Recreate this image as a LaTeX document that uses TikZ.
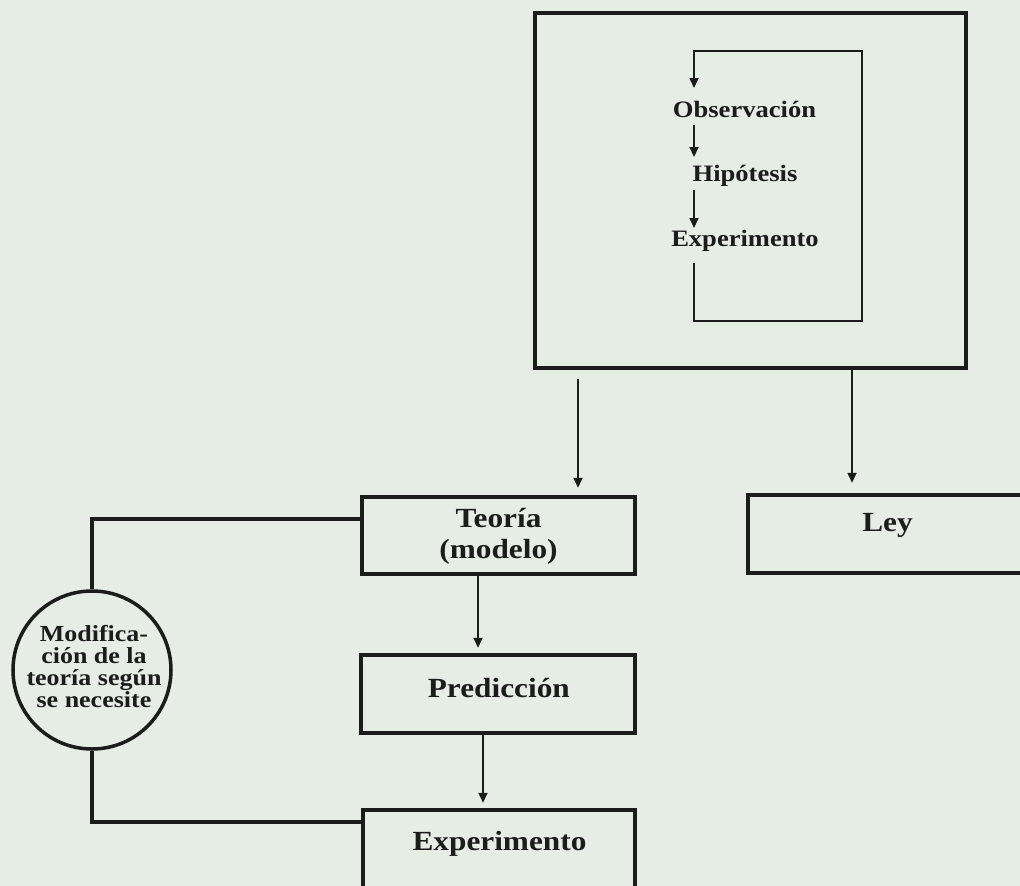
\documentclass[tikz,border=0pt]{standalone}
\usepackage{fontspec}
\setmainfont{Liberation Serif}
\newfontfamily\dfont[FakeStretch=1.13]{Liberation Serif}
\usetikzlibrary{arrows.meta}
\definecolor{paper}{RGB}{229,237,229}
\definecolor{ink}{RGB}{28,28,28}
\begin{document}
\begin{tikzpicture}[x=1pt,y=-1pt,
  thickbox/.style={draw=ink, line width=4.5pt, rectangle, inner sep=0pt},
  boxtxt/.style={font=\dfont\bfseries\fontsize{27.7}{31}\selectfont, text=ink, inner sep=0pt},
  steptxt/.style={font=\dfont\bfseries\fontsize{23.5}{28}\selectfont, text=ink, inner sep=0pt},
  thinline/.style={draw=ink, line width=1.7pt},
  arr/.style={thinline, -{Triangle[length=10pt,width=9pt]}},
  link/.style={draw=ink, line width=4pt},
]
\fill[paper] (0,0) rectangle (1020,886);
\useasboundingbox (0,0) rectangle (1020,886);
\clip (0,0) rectangle (1020,886);

% outer frame
\node[thickbox, line width=4pt, minimum width=431pt, minimum height=355pt] (outer) at (750.5,190.5) {};

% inner cycle
\node[steptxt, anchor=base] (obs) at (744.5,117) {Observación};
\node[steptxt, anchor=base] (hip) at (745,181) {Hipótesis};
\node[steptxt, anchor=base] (exa) at (745,246) {Experimento};

\coordinate (lx) at (694,0);
\coordinate (lt) at (694,51);
\coordinate (rt) at (862,51);
\coordinate (rb) at (862,321);
\coordinate (lb) at (694,321);

\draw[arr] ([yshift=-8pt]obs.base -| lx) -- ([yshift=24pt]hip.base -| lx);
\draw[arr] ([yshift=-9pt]hip.base -| lx) -- ([yshift=18pt]exa.base -| lx);
\draw[arr] ([yshift=-17pt]exa.base -| lx) -- (lb) -- (rb) -- (rt) -- (lt) -- ([yshift=29pt]obs.base -| lx);

% boxes
\node[thickbox, minimum width=273pt, minimum height=77pt] (teo) at (498.5,535.5) {};
\node[boxtxt, anchor=base] (teot1) at (498.5,527) {Teoría};
\node[boxtxt, anchor=base] (teot2) at (498.5,558) {(modelo)};

\node[thickbox, minimum width=274pt, minimum height=78pt] (pre) at (498,694) {};
\node[boxtxt, anchor=base] (pret) at (498.8,697) {Predicción};

\node[thickbox, minimum width=272pt, minimum height=100pt] (exb) at (499,860) {};
\node[boxtxt, anchor=base] (exbt) at (499.5,850) {Experimento};

\node[thickbox, minimum width=292pt, minimum height=78pt] (ley) at (894,534) {};
\node[boxtxt, anchor=base] (leyt) at (887.5,531) {Ley};

% circle
\node[draw=ink, line width=3.5pt, circle, minimum size=158pt, inner sep=0pt] (circ) at (92,670) {};
\node[font=\dfont\bfseries\fontsize{23}{22}\selectfont, text=ink, align=center, inner sep=0pt] (modt) at (94,667) {Modifica-\\ción de la\\teoría según\\se necesite};

% connectors
\coordinate (ax1) at (578,0);
\coordinate (ax2) at (852,0);
\coordinate (ax3) at (478,0);
\coordinate (ax4) at (483,0);
\draw[arr] ([yshift=-9pt]outer.south -| ax1) -- ([yshift=7pt]teo.north -| ax1);
\draw[arr] (outer.south -| ax2) -- ([yshift=10pt]ley.north -| ax2);
\draw[arr] (teo.south -| ax3) -- ([yshift=5pt]pre.north -| ax3);
\draw[arr] (pre.south -| ax4) -- ([yshift=5pt]exb.north -| ax4);

\draw[link] ([yshift=16.5pt]teo.west) -| (circ.north);
\draw[link] (circ.south) |- ([yshift=38pt]exb.west);
\end{tikzpicture}
\end{document}
